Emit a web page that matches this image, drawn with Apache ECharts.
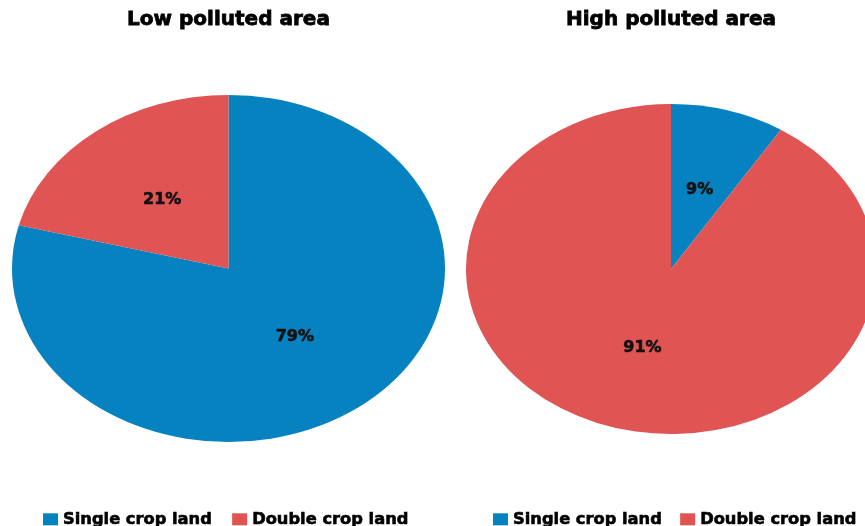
<!DOCTYPE html>
<html>
<head>
<meta charset="utf-8">
<script src="https://cdn.jsdelivr.net/npm/echarts@6/dist/echarts.min.js"></script>
<style>
html,body{margin:0;padding:0;background:#fff;}
#main{width:865px;height:526px;}
</style>
</head>
<body>
<div id="main"></div>
<script>
// ---- data ----
const categories = ['Single crop land', 'Double crop land'];
const pieTitles = ['Low polluted area', 'High polluted area'];
const lowValues = [79, 21];
const highValues = [9, 91];
const categoryColors = ['#0782C1', '#E05454'];

// ---- layout (not data) ----
const pieValues = [lowValues, highValues];
const pieLayout = [
  { cx: 228.5, cy: 268.5, r: 173.5, sx: 216.5 / 173.5 },
  { cx: 671, cy: 269, r: 165, sx: 205 / 165 }
];
const FONT = '"DejaVu Sans", Verdana, sans-serif';

function renderSlice(params, api) {
  const pieIdx = api.value(0);
  const value = api.value(1);
  const catIdx = params.seriesIndex;
  const vals = pieValues[pieIdx];
  const total = vals.reduce((a, b) => a + b, 0);
  let offset = 0;
  for (let i = 0; i < catIdx; i++) offset += vals[i];
  const L = pieLayout[pieIdx];
  const start = -Math.PI / 2 + 2 * Math.PI * offset / total;
  const end = start + 2 * Math.PI * value / total;
  const mid = (start + end) / 2;
  const f = 0.5;
  const lx = L.cx + Math.cos(mid) * L.r * f * L.sx;
  const ly = L.cy + Math.sin(mid) * L.r * f;
  return {
    type: 'group',
    children: [
      {
        type: 'sector',
        x: L.cx, y: L.cy, scaleX: L.sx, scaleY: 1,
        shape: { cx: 0, cy: 0, r0: 0, r: L.r, startAngle: start, endAngle: end, clockwise: true },
        style: { fill: api.visual('color'), stroke: null }
      },
      {
        type: 'text',
        x: lx, y: ly, silent: true,
        style: {
          text: Math.round(value / total * 100) + '%',
          fill: '#111',
          stroke: '#111',
          lineWidth: 0.6,
          font: 'bold 16px ' + FONT,
          align: 'center', verticalAlign: 'middle',
          textAlign: 'center', textVerticalAlign: 'middle'
        }
      }
    ]
  };
}

const series = categories.map((name, c) => ({
  type: 'custom',
  name: name,
  coordinateSystem: 'none',
  itemStyle: { color: categoryColors[c] },
  renderItem: renderSlice,
  data: pieValues.map((vals, p) => [p, vals[c]])
}));

const chart = echarts.init(document.getElementById('main'), null, { renderer: 'canvas' });
chart.setOption({
  animation: false,
  backgroundColor: '#ffffff',
  title: pieTitles.map((t, i) => ({
    text: t,
    left: pieLayout[i].cx,
    top: 10,
    padding: 0,
    textAlign: 'center',
    textStyle: {
      fontFamily: FONT, fontWeight: 'bold', fontSize: 20, color: '#000',
      textBorderColor: '#000', textBorderWidth: 0.8
    }
  })),
  legend: [
    { left: 43, top: 511, padding: 0, itemGap: 20 },
    { left: 493, top: 511, padding: 0, itemGap: 18 }
  ].map(pos => Object.assign({
    data: categories,
    orient: 'horizontal',
    icon: 'rect',
    itemWidth: 15,
    itemHeight: 12,
    textStyle: {
      fontFamily: FONT, fontWeight: 'bold', fontSize: 16.3, color: '#000',
      textBorderColor: '#000', textBorderWidth: 0.6
    }
  }, pos)),
  series: series
});
</script>
</body>
</html>
